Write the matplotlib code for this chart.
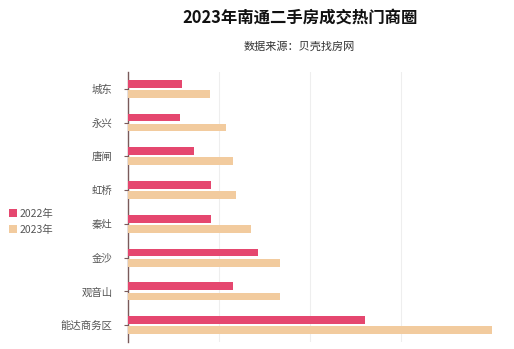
import matplotlib.pyplot as plt
import numpy as np

plt.rcParams['font.family'] = ['Noto Sans CJK SC', 'DejaVu Sans']

areas = ['城东', '永兴', '唐闸', '虹桥', '秦灶', '金沙', '观音山', '能达商务区']
sales_2022 = [59, 57, 73, 91, 91, 143, 115, 260]
sales_2023 = [90, 108, 115, 119, 135, 167, 167, 400]

fig = plt.figure(figsize=(5.14, 3.49), dpi=100)
ax = fig.add_axes([0.249, 0.02, 0.708, 0.774])

y = np.arange(len(areas))
h = 0.23
off = 0.15
ax.barh(y - off, sales_2022, height=h, color='#E5476F', label='2022年', zorder=3)
ax.barh(y + off, sales_2023, height=h, color='#F2CB9E', label='2023年', zorder=3)

ax.set_yticks(y)
ax.set_yticklabels(areas, fontsize=7.5, color='#555555')
ax.set_ylim(len(areas) - 0.5, -0.5)
ax.set_xlim(0, 400)
ax.set_xticks([100, 200, 300])
ax.tick_params(axis='x', length=0, labelbottom=False)
ax.tick_params(axis='y', length=3, color='#7a5a5a', pad=8)
ax.grid(axis='x', color='#eeeeee', linewidth=0.8, zorder=0)
for s in ['top', 'right', 'bottom']:
    ax.spines[s].set_visible(False)
ax.spines['left'].set_color('#7a5a5a')
ax.spines['left'].set_linewidth(1)

fig.legend(loc='center left', bbox_to_anchor=(0.0, 0.365), frameon=False,
           fontsize=7.5, handlelength=0.7, handleheight=0.7, handletextpad=0.3,
           labelspacing=0.55, labelcolor='#555555')

fig.text(0.583, 0.95, '2023年南通二手房成交热门商圈', ha='center', va='center',
         fontsize=11.8, fontweight='bold', color='#111111')
fig.text(0.583, 0.868, '数据来源：贝壳找房网', ha='center', va='center',
         fontsize=8, color='#333333')

fig.savefig('out.png', dpi=100)
